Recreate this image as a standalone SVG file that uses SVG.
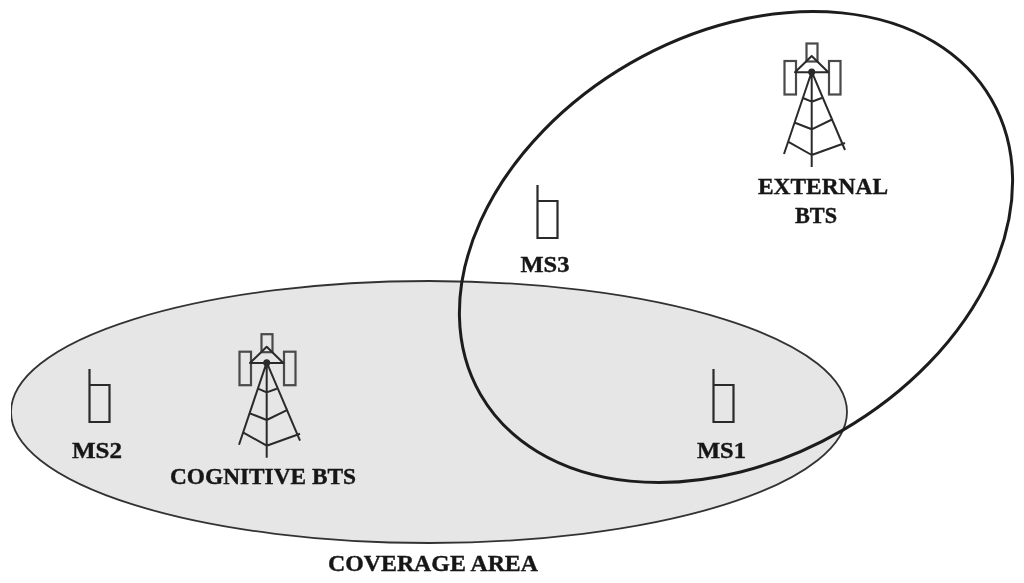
<svg xmlns="http://www.w3.org/2000/svg" width="1024" height="583" viewBox="0 0 1024 583">
<style>
.lbl{font-family:"Liberation Serif","Times New Roman",serif;font-weight:bold;font-size:24px;fill:#161616;stroke:#161616;stroke-width:.4;text-anchor:middle}
.t{fill:none;stroke:#2a2a2a;stroke-width:2;stroke-linejoin:round}
.a{fill:none;stroke:#4a4a4a;stroke-width:2.200}
.p{fill:none;stroke:#2a2a2a;stroke-width:2.200}
</style>
<defs>
<filter id="soft" x="0" y="0" width="100%" height="100%"><feGaussianBlur stdDeviation="0.5"/></filter>
<g id="tower">
<rect class="a" x="806.500" y="43.500" width="11" height="18"/>
<rect class="a" x="784.500" y="61" width="11.500" height="33.500"/>
<rect class="a" x="829" y="61" width="11.500" height="33.500"/>
<path class="t" d="M795 72.300L811.700 56L828.300 72.300ZM811.700 71.700L784 154M811.700 71.700L845 150M811.700 71.700V167M803 98L811.700 101.700L821.700 98M795 122.700L811.700 129.300L833 119M788 141.700L811.700 155L845 143"/>
<circle cx="811.700" cy="72" r="3.500" fill="#2a2a2a"/>
</g>
<path id="phone" class="p" d="M0 0V53H20V16H0"/>
</defs>
<rect width="1024" height="583" fill="#fff"/>
<g filter="url(#soft)">
<g id="coverage-area">
<ellipse cx="429" cy="412" rx="418" ry="131" fill="#e6e6e6" stroke="#333" stroke-width="1.800"/>
<text class="lbl" x="433" y="571" textLength="210" lengthAdjust="spacingAndGlyphs">COVERAGE AREA</text>
</g>
<g id="external-coverage">
<ellipse cx="736" cy="247" rx="295" ry="212" transform="rotate(-30 736 247)" fill="none" stroke="#1e1e1e" stroke-width="3"/>
</g>
<g id="external-bts">
<use href="#tower"/>
<text class="lbl" x="823" y="194" textLength="130" lengthAdjust="spacingAndGlyphs">EXTERNAL</text>
<text class="lbl" x="816" y="223" textLength="42" lengthAdjust="spacingAndGlyphs">BTS</text>
</g>
<g id="cognitive-bts">
<use href="#tower" transform="translate(-545 290.700)"/>
<text class="lbl" x="263" y="484" textLength="186" lengthAdjust="spacingAndGlyphs">COGNITIVE BTS</text>
</g>
<g id="ms1">
<use href="#phone" x="713.500" y="369"/>
<text class="lbl" x="721.500" y="458" textLength="49" lengthAdjust="spacingAndGlyphs">MS1</text>
</g>
<g id="ms2">
<use href="#phone" x="89.500" y="369"/>
<text class="lbl" x="97" y="458" textLength="50" lengthAdjust="spacingAndGlyphs">MS2</text>
</g>
<g id="ms3">
<use href="#phone" x="537.500" y="185"/>
<text class="lbl" x="545" y="272" textLength="49" lengthAdjust="spacingAndGlyphs">MS3</text>
</g>
<g id="connectors"/>
</g>
</svg>
